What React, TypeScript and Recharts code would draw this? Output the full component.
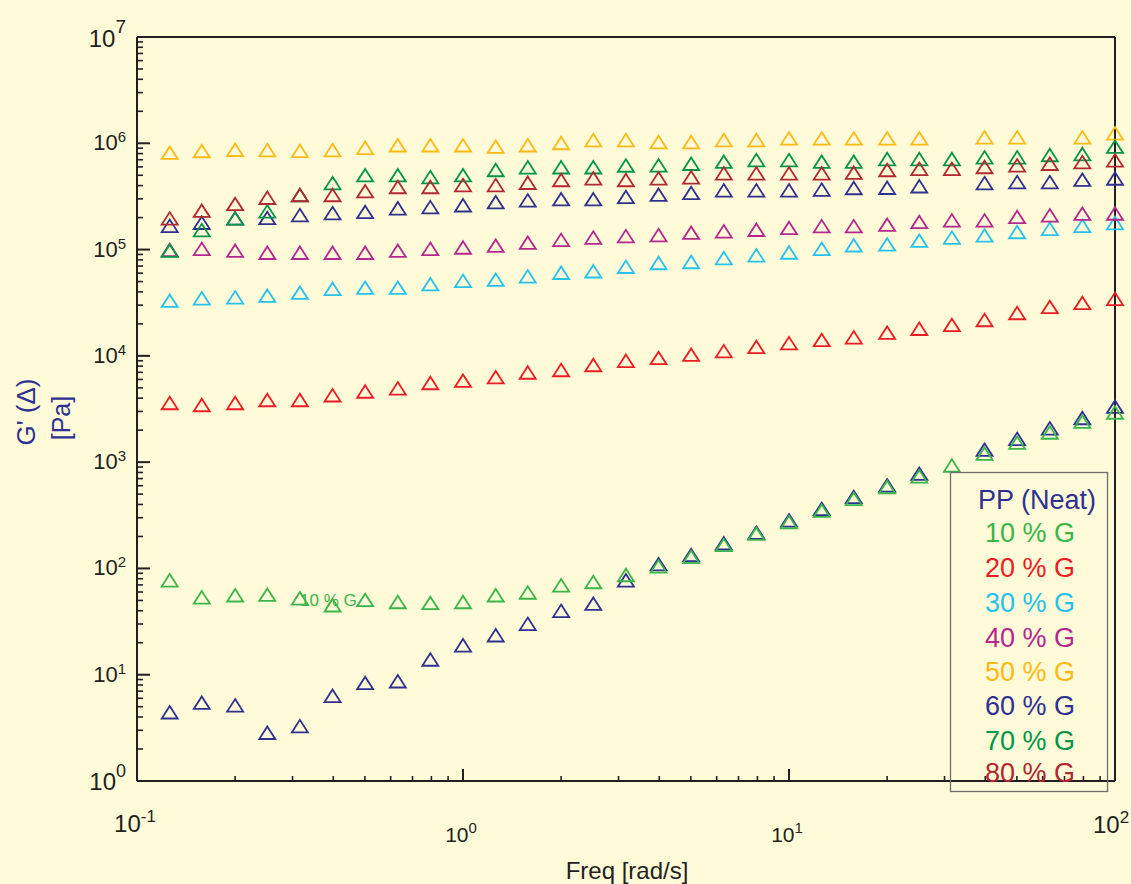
import React from 'react';
import { ScatterChart, Scatter, XAxis, YAxis, ReferenceLine } from 'recharts';

// angular frequency [rad/s], 10 points per decade
const freq = [0.126, 0.158, 0.2, 0.251, 0.316, 0.398, 0.501, 0.631, 0.794, 1, 1.26, 1.58, 2, 2.51, 3.16, 3.98, 5.01, 6.31, 7.94, 10, 12.6, 15.8, 20, 25.1, 31.6, 39.8, 50.1, 63.1, 79.4, 100];

// G' [Pa] (null = no marker)
const ppNeat = [4.24, 5.22, 4.93, 2.72, 3.14, 6.06, 8.0, 8.3, 13.3, 18.1, 22.5, 28.8, 38.2, 44.6, 74, 105, 128, 165, 208, 271, 348, 450, 579, 745, null, 1253, 1586, 1991, 2489, 3179];
const g10 = [74, 51.2, 53.5, 54.2, 50.1, 43.1, 48.3, 46.2, 45.3, 46.2, 53.5, 56.8, 66.4, 71.3, 83, 100, 123, 159, 203, 261, 334, 432, 558, 704, 889, 1148, 1459, 1818, 2297, 2805];
const g20 = [3444, 3298, 3444, 3675, 3675, 4073, 4420, 4735, 5312, 5586, 6026, 6669, 7045, 7850, 8596, 9140, 9817, 10600, 11600, 12600, 13500, 14300, 15800, 17200, 18700, 20800, 24200, 27600, 30100, 32900];
const g30 = [31600, 33300, 34000, 35200, 37600, 40900, 41900, 41900, 45200, 48600, 49800, 53600, 57900, 59800, 65900, 71500, 73100, 79600, 84500, 89800, 97200, 105000, 107000, 116000, 124000, 130000, 140000, 150000, 160000, 170000];
const g40 = [94800, 97200, 93300, 89300, 89300, 89300, 89300, 93300, 97200, 100000, 104000, 111000, 118000, 124000, 128000, 131000, 138000, 142000, 147000, 153000, 159000, 159000, 164000, 174000, 180000, 180000, 194000, 201000, 208000, 209000];
const g50 = [780000, 809000, 832000, 826000, 812000, 826000, 867000, 917000, 917000, 917000, 888000, 917000, 962000, 1026000, 1026000, 983000, 983000, 1026000, 1026000, 1065000, 1065000, 1065000, 1065000, 1065000, null, 1088000, 1088000, null, 1088000, 1187000];
const g60 = [160000, 171000, 188000, 190000, 202000, 211000, 216000, 234000, 240000, 250000, 267000, 278000, 285000, 285000, 299000, 314000, 326000, 345000, 345000, 345000, 351000, 363000, 365000, 377000, null, 404000, 413000, 413000, 435000, 446000];
const g70 = [93300, 146000, 188000, 219000, 312000, 404000, 479000, 479000, 460000, 479000, 536000, 568000, 569000, 569000, 591000, 593000, 614000, 642000, 665000, 665000, 642000, 642000, 680000, 680000, 680000, 706000, 706000, 742000, 758000, 888000];
const g80 = [188000, 222000, 257000, 294000, 312000, 312000, 339000, 371000, 371000, 387000, 387000, 407000, 432000, 448000, 432000, 448000, 458000, 499000, 499000, 499000, 499000, 506000, 536000, 550000, 550000, 572000, 593000, 614000, 637000, 661000];

const seriesNames = ['PP (Neat)', '10 % G', '20 % G', '30 % G', '40 % G', '50 % G', '60 % G', '70 % G', '80 % G'];
const seriesValues = [ppNeat, g10, g20, g30, g40, g50, g60, g70, g80];
const seriesColors = ['#2e3192', '#39b54a', '#ed1c24', '#27c1ee', '#b3278f', '#fdb915', '#2e3192', '#00964a', '#b1282e'];

// axis ticks
const xMajor = [0.1, 1, 10, 100];
const xExp = ['-1', '0', '1', '2'];
const xMinor = [0.2, 0.3, 0.4, 0.5, 0.6, 0.7, 0.8, 0.9, 2, 3, 4, 5, 6, 7, 8, 9, 20, 30, 40, 50, 60, 70, 80, 90];
const yMajor = [1, 10, 100, 1000, 10000, 100000, 1000000, 10000000];
const yExp = ['0', '1', '2', '3', '4', '5', '6', '7'];
const yMinor = yMajor.slice(0, 7).flatMap(d => [2, 3, 4, 5, 6, 7, 8, 9].map(m => m * d));

const BG = '#fffad7';
const AXIS = '#231f20';
const NAVY = '#2e3192';
const FONT = '"Liberation Sans", Arial, Helvetica, sans-serif';

const series = seriesNames.map((name, i) => ({
  name,
  color: seriesColors[i],
  data: freq
    .map((f, j) => ({ x: f, y: seriesValues[i][j] }))
    .filter(p => p.y != null),
}));

const triangle = (color: string) => (props: any) => {
  const { cx, cy } = props;
  if (cx == null || cy == null) return <g />;
  return (
    <path
      d={`M${cx},${cy - 8.3}L${cx + 8},${cy + 4.2}L${cx - 8},${cy + 4.2}Z`}
      fill="none"
      stroke={color}
      strokeWidth={1.8}
    />
  );
};

// label sizes per decade (the original figure is not uniform)
const yLabelSize = [24, 22, 22, 22, 22, 22, 22, 24];
const ySupSize = [18, 15, 15, 15, 15, 15, 15, 19];
const yBase = [9, 7, 7, 7, 7, 7, 7, 10];
const ySupDy = [-13, -8, -8, -8, -8, -8, -8, -14];

const YTick = (props: any) => {
  const { x, y, payload } = props;
  const i = yMajor.indexOf(payload.value);
  if (i < 0) {
    return <line x1={x} x2={x + 6} y1={y} y2={y} stroke={AXIS} strokeWidth={1.6} />;
  }
  return (
    <g>
      <line x1={x} x2={x + 13} y1={y} y2={y} stroke={AXIS} strokeWidth={2} />
      <text x={x - 11} y={y + yBase[i]} textAnchor="end" fontSize={yLabelSize[i]} fill={AXIS} fontFamily={FONT}>
        10<tspan dy={ySupDy[i]} fontSize={ySupSize[i]}>{yExp[i]}</tspan>
      </text>
    </g>
  );
};

const xLabelSize = [24, 21, 21, 24];
const xSupSize = [17, 15, 15, 17];
const xBase = [51, 61, 61, 52];
const xSupDy = [-10, -9, -9, -10];
const xShift = [-2, -2, -2, -22];
const xAnchor = ['middle', 'middle', 'middle', 'start'];

const XTick = (props: any) => {
  const { x, y, payload } = props;
  const i = xMajor.indexOf(payload.value);
  if (i < 0) {
    return <line x1={x} x2={x} y1={y} y2={y - 5} stroke={AXIS} strokeWidth={1.6} />;
  }
  return (
    <g>
      <line x1={x} x2={x} y1={y} y2={y - 12} stroke={AXIS} strokeWidth={2} />
      <text x={x + xShift[i]} y={y + xBase[i]} textAnchor={xAnchor[i]} fontSize={xLabelSize[i]} fill={AXIS} fontFamily={FONT}>
        10<tspan dy={xSupDy[i]} fontSize={xSupSize[i]}>{xExp[i]}</tspan>
      </text>
    </g>
  );
};

const legendY = [499, 532, 567, 602, 637, 671, 705, 740, 772];

export default function App() {
  return (
    <div style={{ position: 'absolute', left: 0, top: 0, width: 1131, height: 884, background: BG, overflow: 'hidden' }}>
      <ScatterChart width={1131} height={884} margin={{ top: 37, right: 16, bottom: 0, left: 0 }}>
        <XAxis
          type="number"
          dataKey="x"
          scale="log"
          domain={[0.1, 100]}
          ticks={[...xMajor, ...xMinor]}
          interval={0}
          height={103}
          tickSize={0}
          tickMargin={0}
          tick={<XTick />}
          axisLine={{ stroke: AXIS, strokeWidth: 2 }}
          tickLine={false}
        />
        <YAxis
          type="number"
          dataKey="y"
          scale="log"
          domain={[1, 10000000]}
          ticks={[...yMajor, ...yMinor]}
          interval={0}
          width={137}
          tickSize={0}
          tickMargin={0}
          tick={<YTick />}
          axisLine={{ stroke: AXIS, strokeWidth: 2 }}
          tickLine={false}
        />
        <ReferenceLine y={10000000} stroke={AXIS} strokeWidth={2} />
        <ReferenceLine x={100} stroke={AXIS} strokeWidth={2} />
        {series.map(s => (
          <Scatter
            key={s.name}
            name={s.name}
            data={s.data}
            shape={triangle(s.color)}
            isAnimationActive={false}
          />
        ))}
      </ScatterChart>
      <svg
        width={1131}
        height={884}
        style={{ position: 'absolute', left: 0, top: 0, pointerEvents: 'none' }}
        fontFamily={FONT}
      >
        <text x={35} y={412} transform="rotate(-90, 35, 412)" textAnchor="middle" fontSize={26} fill={NAVY}>
          G' (Δ)
        </text>
        <text x={70} y={418} transform="rotate(-90, 70, 418)" textAnchor="middle" fontSize={25} fill={NAVY}>
          [Pa]
        </text>
        <text x={627} y={879} textAnchor="middle" fontSize={24} fill={AXIS}>
          Freq [rad/s]
        </text>
        <text x={300} y={606} fontSize={17} fill={seriesColors[1]}>
          10 % G
        </text>
        <rect x={950.5} y={472.5} width={157} height={319} fill="none" stroke="#6d6e71" strokeWidth={1.3} />
        {series.map((s, i) => (
          <text key={s.name} x={i === 0 ? 978 : 985} y={legendY[i] + 9.5} fontSize={27} fill={s.color}>
            {s.name}
          </text>
        ))}
      </svg>
    </div>
  );
}
